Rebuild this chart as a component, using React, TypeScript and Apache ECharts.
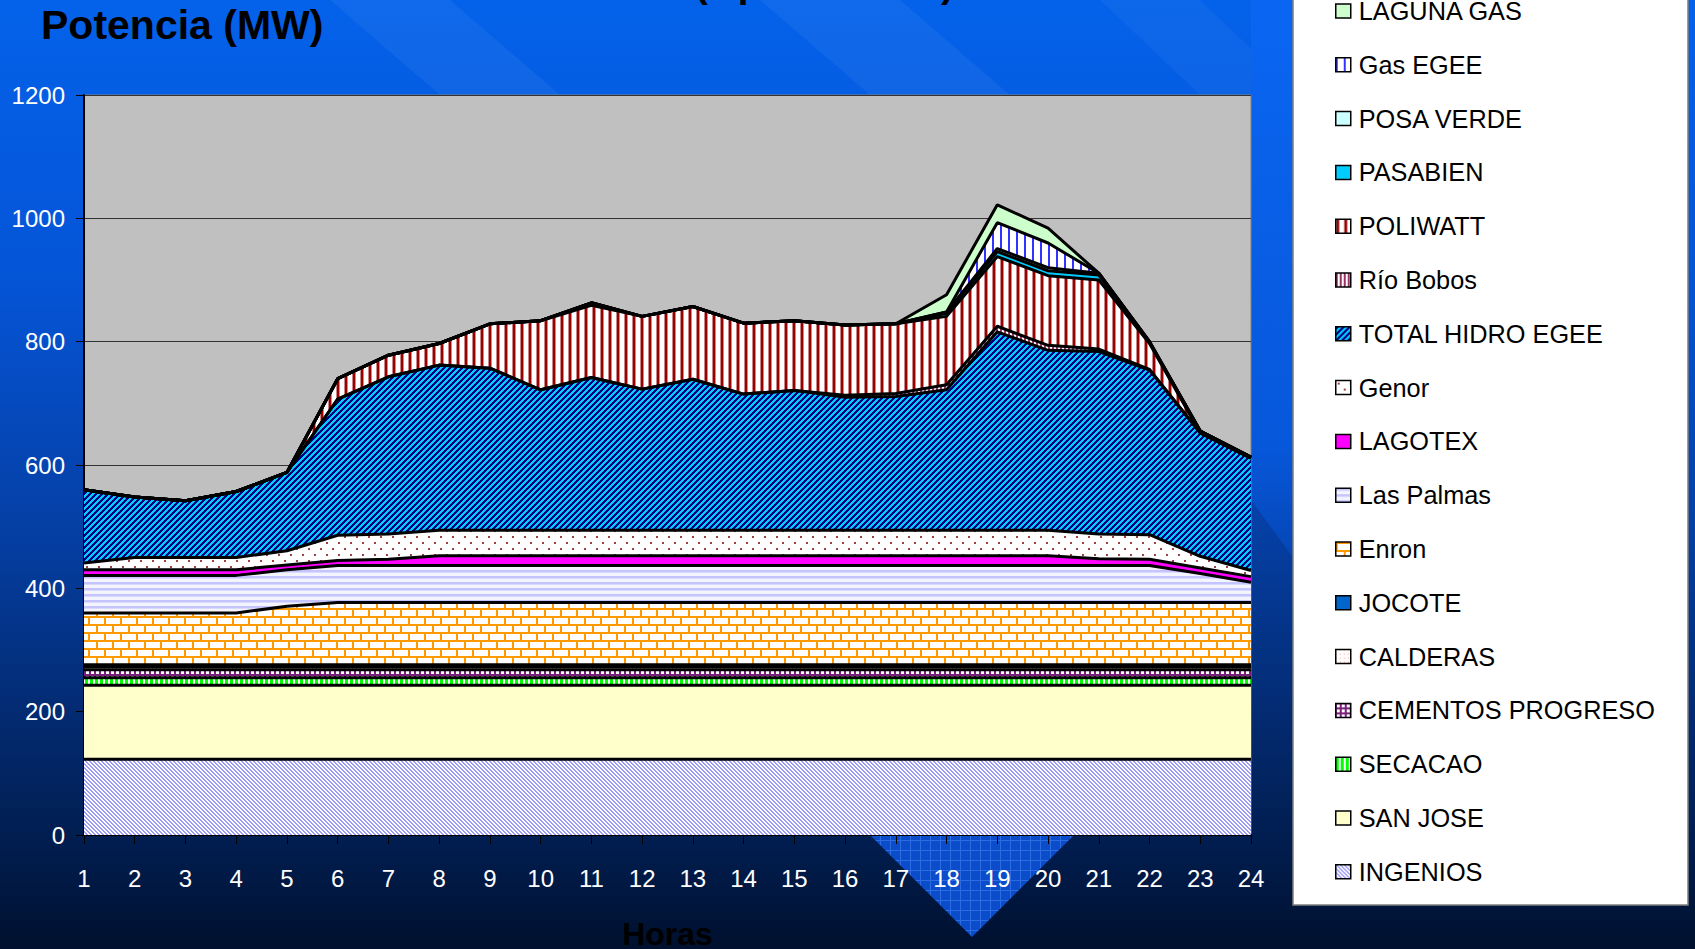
import React, { useEffect, useRef } from 'react';
import * as echarts from 'echarts';

const hours = ['1', '2', '3', '4', '5', '6', '7', '8', '9', '10', '11', '12', '13', '14', '15', '16', '17', '18', '19', '20', '21', '22', '23', '24'];

const ingenios = [123, 123, 123, 123, 123, 123, 123, 123, 123, 123, 123, 123, 123, 123, 123, 123, 123, 123, 123, 123, 123, 123, 123, 123];
const sanJose = [120, 120, 120, 120, 120, 120, 120, 120, 120, 120, 120, 120, 120, 120, 120, 120, 120, 120, 120, 120, 120, 120, 120, 120];
const secacao = [12, 12, 12, 12, 12, 12, 12, 12, 12, 12, 12, 12, 12, 12, 12, 12, 12, 12, 12, 12, 12, 12, 12, 12];
const cementos = [13, 13, 13, 13, 13, 13, 13, 13, 13, 13, 13, 13, 13, 13, 13, 13, 13, 13, 13, 13, 13, 13, 13, 13];
const calderas = [5, 5, 5, 5, 5, 5, 5, 5, 5, 5, 5, 5, 5, 5, 5, 5, 5, 5, 5, 5, 5, 5, 5, 5];
const jocote = [3, 3, 3, 3, 3, 3, 3, 3, 3, 3, 3, 3, 3, 3, 3, 3, 3, 3, 3, 3, 3, 3, 3, 3];
const enron = [84, 84, 84, 84, 95, 101, 101, 101, 101, 101, 101, 101, 101, 101, 101, 101, 101, 101, 101, 101, 101, 101, 101, 101];
const lasPalmas = [61, 61, 61, 61, 59, 60, 60, 60, 60, 60, 60, 60, 60, 60, 60, 60, 60, 60, 60, 60, 60, 60, 47, 33];
const lagotex = [9, 9, 9, 9, 8, 8, 10, 16, 16, 16, 16, 16, 16, 16, 16, 16, 16, 16, 16, 16, 11, 10, 9, 9];
const genor = [11, 20, 20, 20, 23, 41, 41, 41, 41, 41, 41, 41, 41, 41, 41, 41, 41, 41, 41, 41, 40, 40, 19, 10];
const hidroEgee = [119, 98, 92, 107, 127, 221, 255, 268, 263, 228, 248, 229, 245, 221, 227, 216, 217, 228, 322, 292, 296, 267, 200, 182];
const rioBobos = [0, 0, 0, 0, 0, 0, 0, 0, 0, 0, 0, 0, 0, 0, 0, 3, 5, 8, 9, 8, 4, 1, 0, 0];
const poliwatt = [0, 0, 0, 0, 0, 33, 35, 35, 72, 112, 117, 118, 118, 115, 113, 114, 113, 111, 113, 113, 112, 42, 0, 0];
const pasabien = [0, 0, 0, 0, 0, 0, 0, 0, 0, 0, 4, 0, 0, 0, 0, 0, 0, 5, 8, 8, 8, 2, 3, 2];
const posaVerde = [0, 0, 0, 0, 0, 0, 0, 0, 0, 0, 0, 0, 0, 0, 0, 0, 0, 2, 5, 5, 3, 1, 0, 0];
const gasEgee = [0, 0, 0, 0, 0, 0, 0, 0, 0, 0, 0, 0, 0, 0, 0, 0, 0, 0, 42, 40, 0, 0, 0, 0];
const lagunaGas = [0, 0, 0, 0, 0, 0, 0, 0, 0, 0, 0, 0, 0, 0, 0, 0, 0, 28, 29, 24, 0, 0, 0, 0];

const seriesNames = ['INGENIOS', 'SAN JOSE', 'SECACAO', 'CEMENTOS PROGRESO', 'CALDERAS', 'JOCOTE', 'Enron', 'Las Palmas', 'LAGOTEX', 'Genor', 'TOTAL HIDRO EGEE', 'Río Bobos', 'POLIWATT', 'PASABIEN', 'POSA VERDE', 'Gas EGEE', 'LAGUNA GAS'];
const seriesValues = [ingenios, sanJose, secacao, cementos, calderas, jocote, enron, lasPalmas, lagotex, genor, hidroEgee, rioBobos, poliwatt, pasabien, posaVerde, gasEgee, lagunaGas];

const FONT = '"Liberation Sans", Arial, sans-serif';

function makePattern(w: number, h: number, draw: (ctx: CanvasRenderingContext2D) => void): any {
  const c = document.createElement('canvas');
  c.width = w;
  c.height = h;
  const ctx = c.getContext('2d') as CanvasRenderingContext2D;
  draw(ctx);
  return { image: c.toDataURL(), repeat: 'repeat', imageWidth: w, imageHeight: h };
}

function px(ctx: CanvasRenderingContext2D, x: number, y: number, w: number, h: number, color: string) {
  ctx.fillStyle = color;
  ctx.fillRect(x, y, w, h);
}

function buildFills(): any[] {
  const ingeniosP = makePattern(4, 4, (ctx) => {
    px(ctx, 0, 0, 4, 4, '#FFFFFF');
    for (let y = 0; y < 4; y++) for (let x = 0; x < 4; x++) if (((x - y) % 4 + 4) % 4 < 2) px(ctx, x, y, 1, 1, '#9C9CF6');
  });
  const secacaoP = makePattern(5, 2, (ctx) => {
    px(ctx, 0, 0, 5, 2, '#FFFFFF');
    px(ctx, 0, 0, 3, 2, '#00FF00');
  });
  const cementosP = makePattern(5, 5, (ctx) => {
    px(ctx, 0, 0, 5, 5, '#7A1F7A');
    px(ctx, 1, 1, 3, 3, '#FFFFFF');
  });
  const calderasP = makePattern(4, 4, (ctx) => {
    px(ctx, 0, 0, 4, 4, '#FFFFFF');
    px(ctx, 0, 0, 1, 1, '#FF9999');
  });
  const enronP = makePattern(16, 16, (ctx) => {
    px(ctx, 0, 0, 16, 16, '#FFFFFF');
    px(ctx, 0, 0, 16, 2, '#FF9900');
    px(ctx, 0, 8, 16, 2, '#FF9900');
    px(ctx, 0, 0, 2, 8, '#FF9900');
    px(ctx, 8, 8, 2, 8, '#FF9900');
  });
  const lasPalmasP = makePattern(2, 6, (ctx) => {
    px(ctx, 0, 0, 2, 6, '#F4F4FF');
    px(ctx, 0, 0, 2, 2, '#C4C4FF');
    px(ctx, 0, 2, 2, 1, '#DADAFF');
  });
  const genorP = makePattern(12, 12, (ctx) => {
    px(ctx, 0, 0, 12, 12, '#FFFFFF');
    px(ctx, 2, 2, 2, 2, '#A04040');
    px(ctx, 8, 8, 2, 2, '#A04040');
  });
  const hidroP = makePattern(6, 6, (ctx) => {
    for (let y = 0; y < 6; y++) for (let x = 0; x < 6; x++) px(ctx, x, y, 1, 1, (x + y) % 6 < 3 ? '#000080' : '#00CCFF');
  });
  const rioP = makePattern(4, 2, (ctx) => {
    px(ctx, 0, 0, 4, 2, '#FFFFFF');
    px(ctx, 0, 0, 2, 2, '#993366');
  });
  const poliP = makePattern(8, 2, (ctx) => {
    px(ctx, 0, 0, 8, 2, '#FFFFFF');
    px(ctx, 0, 0, 1, 2, '#CC8888');
    px(ctx, 1, 0, 2, 2, '#990000');
    px(ctx, 3, 0, 1, 2, '#CC8888');
  });
  const gasP = makePattern(8, 2, (ctx) => {
    px(ctx, 0, 0, 8, 2, '#FFFFFF');
    px(ctx, 0, 0, 2, 2, '#3333FF');
  });
  return [ingeniosP, '#FFFFCC', secacaoP, cementosP, calderasP, '#0066CC', enronP, lasPalmasP, '#FF00FF', genorP, hidroP, rioP, poliP, '#00CCFF', '#CCFFFF', gasP, '#CCFFCC'];
}

export default function App() {
  const ref = useRef<HTMLDivElement>(null);

  useEffect(() => {
    document.body.style.margin = '0';
    const chart = echarts.init(ref.current as HTMLDivElement, null, { renderer: 'svg' });
    const fills = buildFills();

    const triP = makePattern(10, 10, (ctx) => {
      px(ctx, 0, 0, 10, 10, '#0B4CCB');
      px(ctx, 0, 0, 10, 1, '#2C6BE0');
      px(ctx, 0, 0, 1, 10, '#2C6BE0');
    });

    const series = seriesNames.map((name, i) => ({
      name,
      type: 'line',
      stack: 'total',
      data: seriesValues[i],
      symbol: 'none',
      showSymbol: false,
      lineStyle: { color: '#000000', width: 3 },
      itemStyle: { color: fills[i] },
      areaStyle: { color: fills[i], opacity: 1 },
      emphasis: { disabled: true },
      silent: true,
    }));

    const legendData = seriesNames
      .map((name, i) => ({ name, itemStyle: { color: fills[i] } }))
      .reverse();

    const option: any = {
      animation: false,
      backgroundColor: new echarts.graphic.LinearGradient(0, 0, 0, 1, [
        { offset: 0, color: '#0462EA' },
        { offset: 0.3, color: '#0554D6' },
        { offset: 0.55, color: '#0540A6' },
        { offset: 0.75, color: '#032B72' },
        { offset: 0.9, color: '#011C4C' },
        { offset: 1, color: '#00102E' },
      ]),
      grid: {
        left: 84,
        top: 95,
        width: 1167,
        height: 740,
        show: true,
        backgroundColor: '#C0C0C0',
        borderColor: '#808080',
        borderWidth: 1,
      },
      xAxis: {
        type: 'category',
        data: hours,
        boundaryGap: false,
        axisLine: { lineStyle: { color: '#000000', width: 2 } },
        axisTick: { show: true, length: 9, alignWithLabel: true, lineStyle: { color: '#000000', width: 1 } },
        axisLabel: { color: '#FFFFFF', fontSize: 24, fontFamily: FONT, margin: 31, interval: 0 },
        splitLine: { show: false },
      },
      yAxis: {
        type: 'value',
        min: 0,
        max: 1200,
        interval: 200,
        axisLine: { show: true, lineStyle: { color: '#000000', width: 2 } },
        axisTick: { show: true, length: 8, lineStyle: { color: '#000000', width: 1 } },
        axisLabel: { color: '#FFFFFF', fontSize: 24, fontFamily: FONT, margin: 19, formatter: (v: number) => String(v) },
        splitLine: { show: true, lineStyle: { color: '#333333', width: 1 } },
      },
      legend: {
        orient: 'vertical',
        left: 1335,
        top: -2,
        padding: 0,
        itemWidth: 15,
        itemHeight: 14,
        itemGap: 27.8,
        icon: 'rect',
        selectedMode: false,
        itemStyle: { borderColor: '#000000', borderWidth: 1.5 },
        textStyle: { fontSize: 25.3, color: '#000000', fontFamily: FONT, lineHeight: 26, padding: [0, 0, 0, 3] },
        data: legendData,
      },
      graphic: [
        { type: 'polygon', z: -1, silent: true, shape: { points: [[330, 0], [450, 0], [560, 95], [440, 95]] }, style: { fill: 'rgba(255,255,255,0.05)' } },
        { type: 'polygon', z: -1, silent: true, shape: { points: [[760, 0], [900, 0], [1010, 95], [870, 95]] }, style: { fill: 'rgba(255,255,255,0.05)' } },
        { type: 'polygon', z: -1, silent: true, shape: { points: [[1100, 0], [1200, 0], [1300, 95], [1200, 95]] }, style: { fill: 'rgba(255,255,255,0.04)' } },
        { type: 'polygon', z: -1, silent: true, shape: { points: [[1251, 0], [1295, 0], [1295, 560], [1251, 500]] }, style: { fill: new echarts.graphic.LinearGradient(0, 0, 0, 1, [ { offset: 0, color: '#0A66F2' }, { offset: 0.8, color: '#0757DA' }, { offset: 1, color: '#0546B4' } ]) } },
        { type: 'polygon', z: -1, silent: true, shape: { points: [[871, 836], [1073, 836], [972, 937]] }, style: { fill: triP } },
        { type: 'rect', z: 1, silent: true, shape: { x: 1293, y: -5, width: 395, height: 910 }, style: { fill: '#FFFFFF', stroke: '#7F7F7F', lineWidth: 1.5 } },
        { type: 'text', z: 10, silent: true, x: 41, y: 25, style: { text: 'Potencia (MW)', fill: '#000000', font: 'bold 41px ' + FONT, textAlign: 'left', textVerticalAlign: 'middle' } },
        { type: 'text', z: 10, silent: true, x: 695, y: -16.5, style: { text: '(Operaciones)', fill: '#000000', font: 'bold 38.5px ' + FONT, textAlign: 'left', textVerticalAlign: 'middle' } },
        { type: 'text', z: 10, silent: true, x: 667.5, y: 934, style: { text: 'Horas', fill: '#000000', font: 'bold 32px ' + FONT, textAlign: 'center', textVerticalAlign: 'middle' } },
      ],
      series,
    };

    chart.setOption(option);
    return () => chart.dispose();
  }, []);

  return <div ref={ref} style={{ position: 'fixed', left: 0, top: 0, width: 1695, height: 949 }} />;
}
